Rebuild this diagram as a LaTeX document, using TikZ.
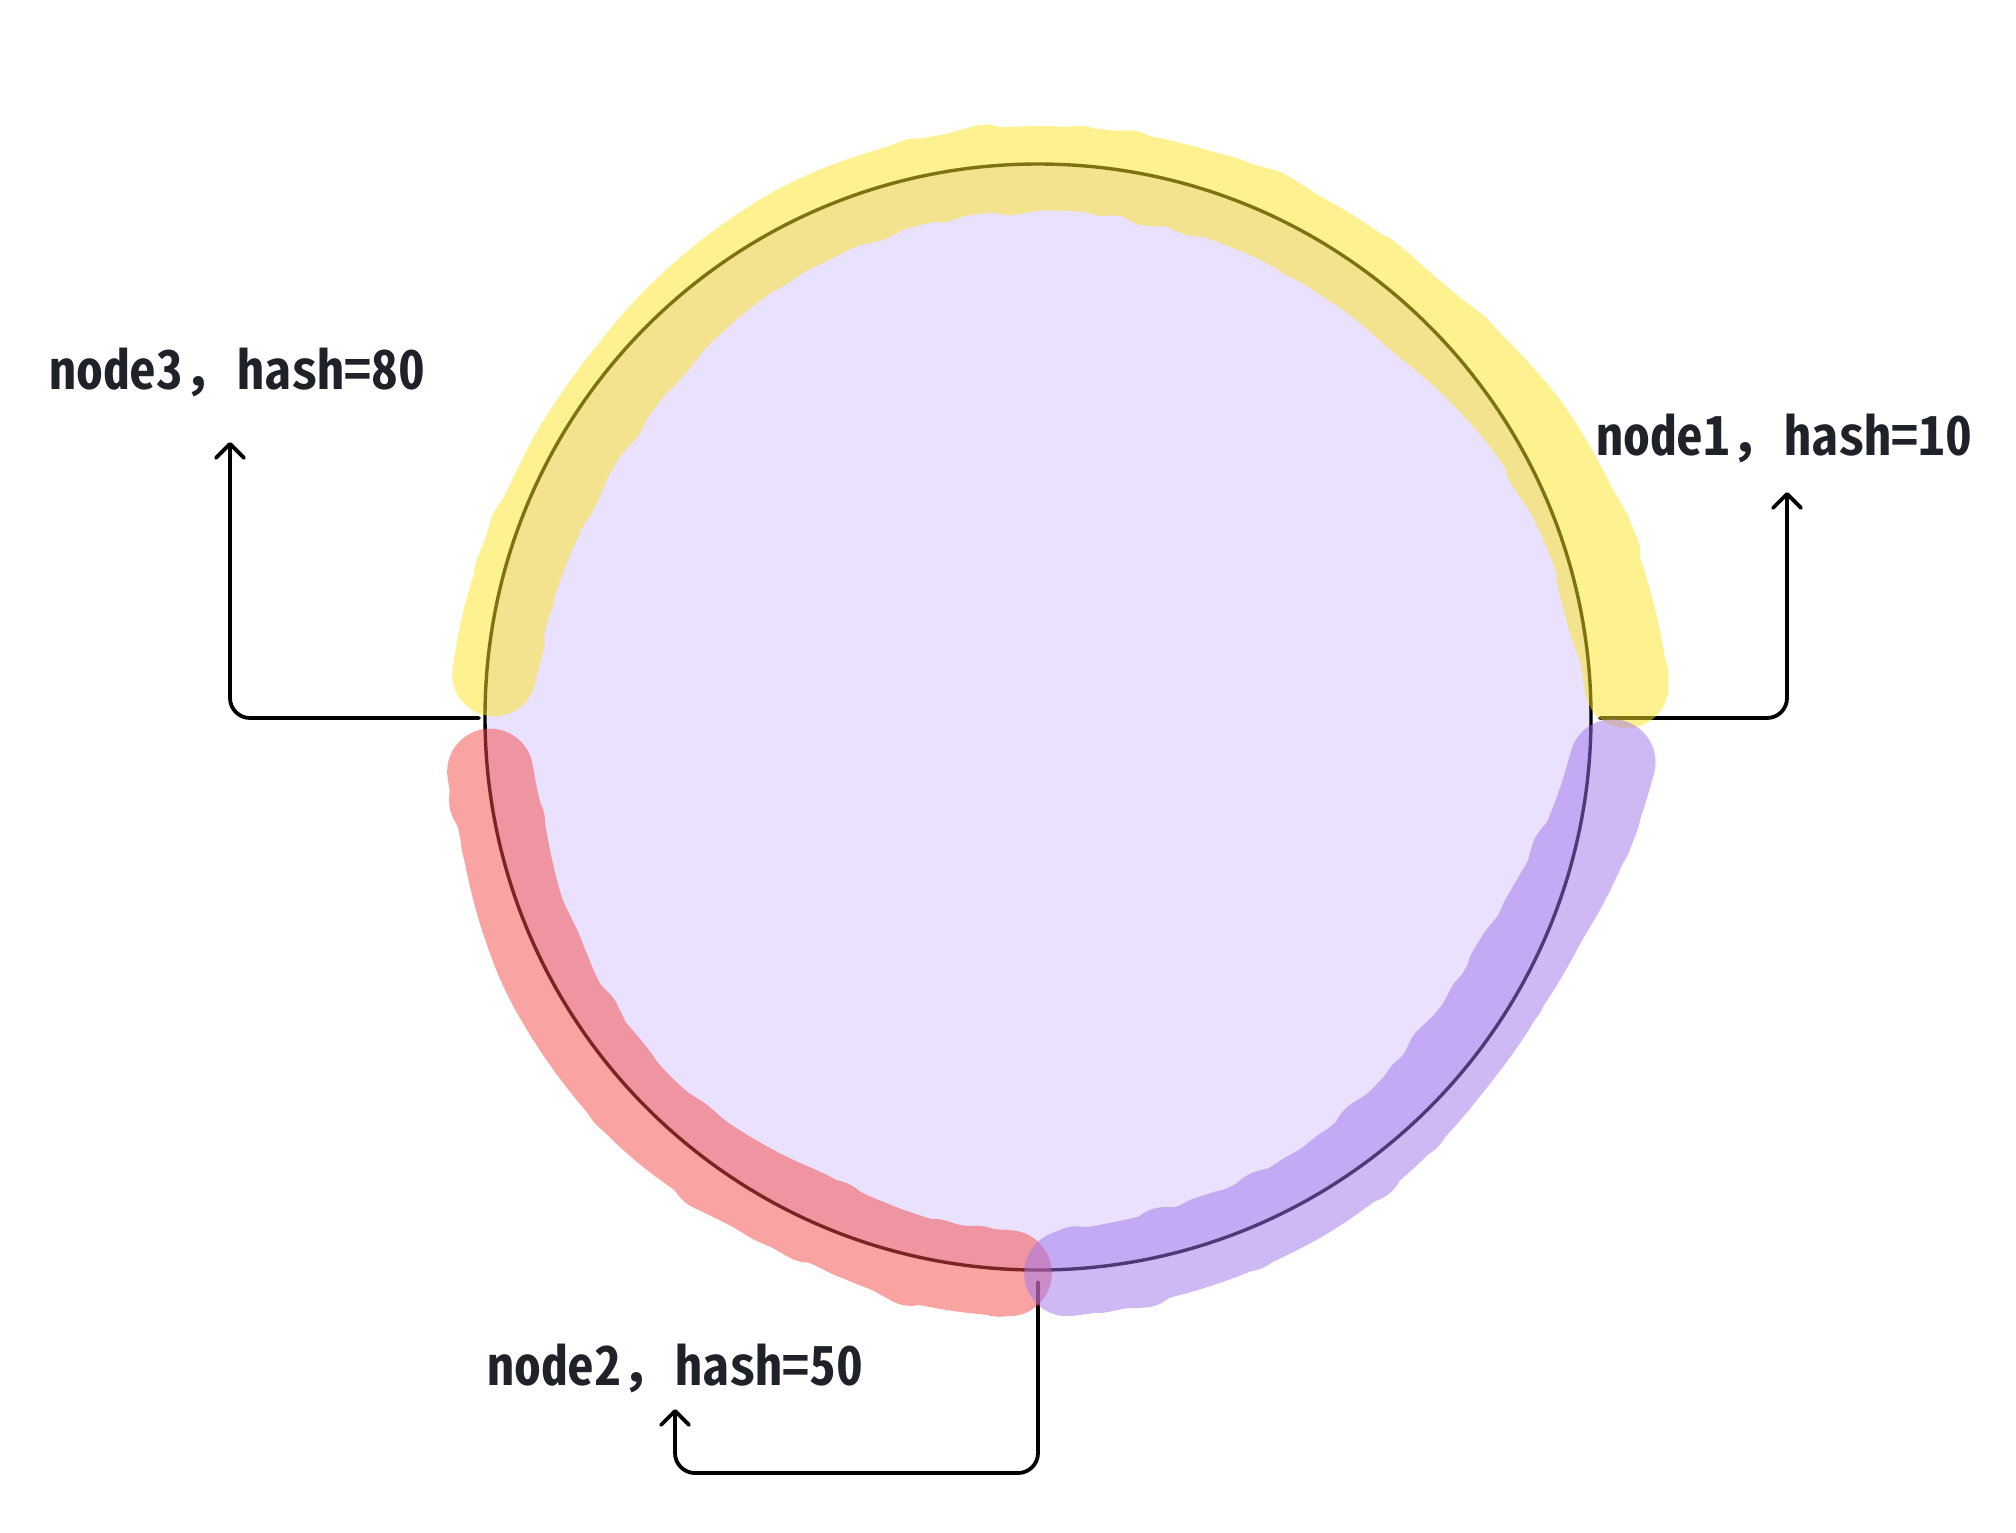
\documentclass[tikz,border=0pt]{standalone}
\usepackage{fontspec}
\usetikzlibrary{arrows.meta}
\IfFontExistsTF{Noto Sans Mono CJK SC}{\newfontfamily\labelfont{Noto Sans Mono CJK SC}}{\newfontfamily\labelfont{Noto Sans CJK SC}}
\definecolor{lav}{HTML}{E9E1FD}
\definecolor{ybase}{RGB}{253,229,35}
\definecolor{rbase}{RGB}{245,75,71}
\definecolor{pbase}{RGB}{161,117,237}
\definecolor{txt}{HTML}{1F2329}
\begin{document}
\begin{tikzpicture}[x=0.5pt,y=-0.5pt,
  lbl/.style={font={\labelfont\bfseries\fontsize{26.85}{32}\selectfont}, text=txt, inner sep=0pt, anchor=base west},
  conn/.style={draw=black, line width=1.9pt, rounded corners=10pt, line cap=round, -{Straight Barb[round,length=7pt,width=14pt]}},
  ring/.style={draw=black, line width=1.7pt},
  band/.style={line cap=round, line join=round},
  declare function={
    yoff(\t) = (\t<203) ? (-6 - 12*(\t-182)/21) : ((\t<219) ? (-18 - (\t-203)/16) : ((\t<245) ? (-19 + 13*(\t-219)/26) : ((\t<270) ? (-6 + 2*(\t-245)/25) : ((\t<314) ? (-4 + 2*(\t-270)/44) : ((\t<330) ? (-2 + 19*(\t-314)/16) : (17 + 20*(\t-330)/28))))));
    poff(\t) = (\t<22) ? (26 - 34*(\t-3)/19) : ((\t<30) ? (-8 - 6*(\t-22)/8) : ((\t<40) ? (-14) : ((\t<60) ? (-14 + 10*(\t-40)/20) : ((\t<80) ? (-4 + 4*(\t-60)/20) : (4*(\t-80)/7)))));
    roff(\t) = (\t>168) ? (-6 + 4*(\t-168)/7) : ((\t>153) ? (3 - 9*(\t-153)/15) : ((\t>134) ? (3 + (153-\t)/19) : ((\t>115) ? (4 - 10*(134-\t)/19) : ((\t>101) ? (-6 + 10*(115-\t)/14) : (4)))));
  },
]
\pgfmathsetseed{11}
\useasboundingbox (0,0) rectangle (2016,1532);
\fill[white] (0,0) rectangle (2016,1532);

\coordinate (c) at (1038,717);
\fill[lav] (c) circle[radius=553];
\draw[ring] (c) circle[radius=553];

% labels
\node[lbl] (n3) at (49,389) {node3，hash=80};
\node[lbl] (n1) at (1596,455) {node1，hash=10};
\node[lbl] (n2) at (487,1385) {node2，hash=50};

% connector points
\coordinate (p3) at (479,718);
\coordinate (t3) at (230,442);
\coordinate (p1) at (1600,718);
\coordinate (t1) at (1787,492);
\coordinate (p2) at (1038,1282);
\coordinate (b2) at (675,1473);
\coordinate (t2) at (675,1409);

\draw[conn] (p3) -| (t3);
\draw[conn] (p1) -| (t1);
\draw[conn] (p2) |- (b2) -- (t2);

% hand-drawn bands
\begin{scope}[shift={(1038,717)}]
\begin{scope}[transparency group, opacity=0.5]
\draw[band, draw=ybase, line width=42pt] plot[smooth, domain=184.5:357, samples=45]
 (\x:{553 + yoff(\x)});
\draw[band, draw=ybase, line width=41pt] plot[domain=185.5:356, samples=70]
 (\x:{553 + yoff(\x) + 12*(rnd-0.5)});
\end{scope}
\begin{scope}[transparency group, opacity=0.5]
\draw[band, draw=rbase, line width=43pt] plot[smooth, domain=174.3:93, samples=30]
 (\x:{553 + roff(\x)});
\draw[band, draw=rbase, line width=42pt] plot[domain=173.5:94, samples=36]
 (\x:{553 + roff(\x) + 12*(rnd-0.5)});
\end{scope}
\begin{scope}[transparency group, opacity=0.5]
\draw[band, draw=pbase, line width=43pt] plot[smooth, domain=4.5:87, samples=30]
 (\x:{553 + poff(\x)});
\draw[band, draw=pbase, line width=42pt] plot[domain=5.5:86, samples=36]
 (\x:{553 + poff(\x) + 12*(rnd-0.5)});
\end{scope}
\end{scope}
\end{tikzpicture}
\end{document}
